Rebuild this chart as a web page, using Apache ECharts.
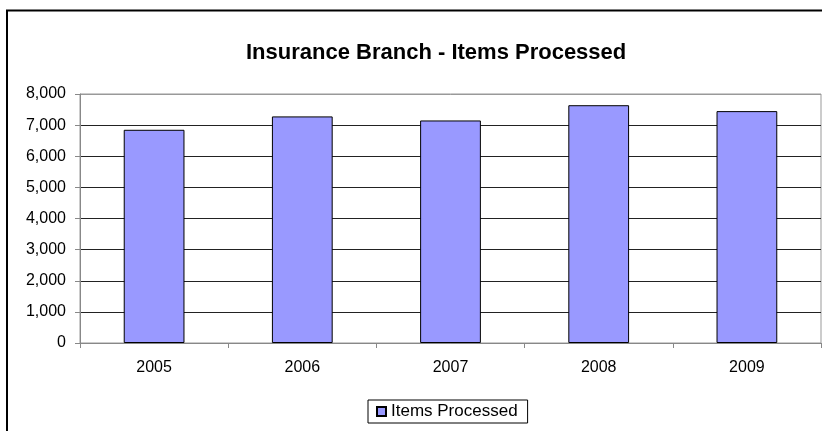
<!DOCTYPE html>
<html>
<head>
<meta charset="utf-8">
<style>
  html, body { margin: 0; padding: 0; background: #fff; }
  #chart { width: 822px; height: 431px; }
</style>
<script src="https://cdn.jsdelivr.net/npm/echarts@6/dist/echarts.min.js"></script>
</head>
<body>
<div id="chart"></div>
<script>
// Yearly throughput of the insurance branch
const years = ['2005', '2006', '2007', '2008', '2009'];
const itemsProcessed = [6850, 7280, 7150, 7640, 7450];
const seriesName = 'Items Processed';

const font = '"Liberation Sans", Arial, sans-serif';
const chart = echarts.init(document.getElementById('chart'));

chart.setOption({
  animation: false,
  backgroundColor: '#fff',
  title: {
    text: 'Insurance Branch - Items Processed',
    left: 246,
    top: 42,
    padding: 0,
    textStyle: { fontFamily: font, fontSize: 22, fontWeight: 'bold', color: '#000' }
  },
  graphic: [{
    type: 'rect',
    silent: true,
    z: -1,
    shape: { x: 7, y: 10.5, width: 900, height: 500 },
    style: { fill: 'none', stroke: '#000', lineWidth: 2 }
  }],
  legend: {
    left: 368,
    top: 400,
    padding: [3, 10, 3, 8],
    borderColor: '#000',
    borderWidth: 1,
    itemWidth: 9,
    itemHeight: 9,
    itemGap: 5,
    icon: 'rect',
    textStyle: { fontFamily: font, fontSize: 17, color: '#000', padding: [0, 0, 0, 0] },
    data: [seriesName]
  },
  grid: {
    left: 80,
    top: 94,
    right: 1,
    bottom: 88,
    show: true,
    borderColor: '#999',
    borderWidth: 1,
    containLabel: false
  },
  xAxis: {
    type: 'category',
    data: years,
    axisLine: { lineStyle: { color: '#888', width: 1 } },
    axisTick: { show: true, length: 5, lineStyle: { color: '#888' } },
    axisLabel: { margin: 17, fontFamily: font, fontSize: 16, color: '#000' },
    splitLine: { show: false }
  },
  yAxis: {
    type: 'value',
    min: 0,
    max: 8000,
    interval: 1000,
    axisLine: { show: true, lineStyle: { color: '#888', width: 1 } },
    axisTick: { show: true, length: 5, lineStyle: { color: '#888' } },
    axisLabel: {
      margin: 14,
      fontFamily: font,
      fontSize: 16,
      color: '#000',
      formatter: v => v.toLocaleString('en-US')
    },
    splitLine: {
      show: true,
      lineStyle: {
        color: ['#888', '#222', '#222', '#222', '#222', '#222', '#222', '#222', '#999'],
        width: 1
      }
    }
  },
  series: [{
    name: seriesName,
    type: 'bar',
    data: itemsProcessed,
    barWidth: '41%',
    itemStyle: { color: '#9999FF', borderColor: '#000', borderWidth: 1 }
  }]
});
</script>
</body>
</html>
